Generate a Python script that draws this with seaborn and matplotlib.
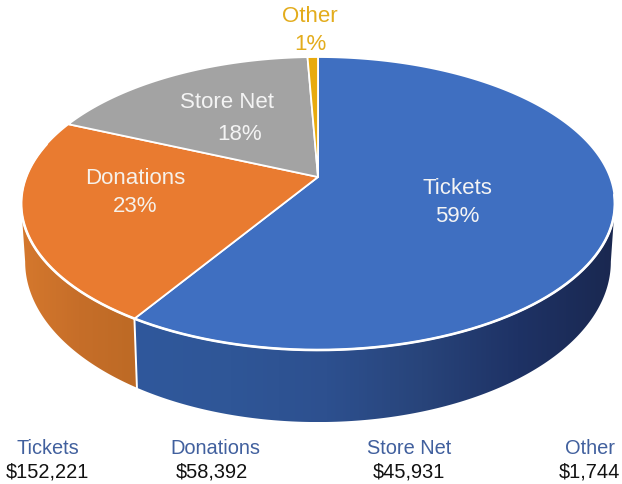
import numpy as np
import matplotlib
matplotlib.use('Agg')
import matplotlib.pyplot as plt
from matplotlib.patches import Polygon
import seaborn as sns

# Datos del grafico
categorias = ['Tickets', 'Donations', 'Store Net', 'Other']
valores = [152221, 58392, 45931, 1744]
porcentajes = ['59%', '23%', '18%', '1%']
montos = ['$152,221', '$58,392', '$45,931', '$1,744']

# Colores de la cara superior y de la pared lateral visible (de izquierda a derecha)
colores = ['#3F6FC1', '#E97B30', '#A3A3A3', '#E8AA0E']
paredes = [['#30589C', '#2F5697', '#2D508F', '#28447A', '#1E3265', '#1A2850'],
           ['#D5782D', '#C66E29', '#BD6A25']]

sns.set_theme(style='white')
plt.rcParams['font.family'] = ['Liberation Sans', 'DejaVu Sans']

fig, ax = plt.subplots(figsize=(6.22, 4.84), dpi=100)
ax.set_position([0, 0, 1, 1])
ax.axis('off')

# Proyeccion en perspectiva del circulo unidad al plano de la figura
def proyectar(ang, cx, cy, rx, ry, k=0.181):
    x, y = np.sin(ang), np.cos(ang)
    w = 1 + k * y
    return cx + rx * x / w, cy - ry * y / w

def arriba(ang):
    return proyectar(ang, 318, 177, 292, 141.7)

def abajo(ang):
    return proyectar(ang, 318, 232.8, 288, 155)

# Angulos acumulados, en sentido horario desde arriba
fracciones = np.cumsum([0] + valores) / np.sum(valores)
angulos = fracciones * 2 * np.pi

# Solo se ve la pared entre los dos extremos laterales de la elipse
frente = np.radians([100.4, 259.6])

# Pared lateral con degradado horizontal recortado a la forma de cada porcion
for i in range(len(paredes)):
    t = np.linspace(max(angulos[i], frente[0]), min(angulos[i + 1], frente[1]), 300)
    xa, ya = arriba(t)
    xb, yb = abajo(t[::-1])
    px, py = np.r_[xa, xb], np.r_[ya, yb]
    forma = Polygon(np.c_[px, py], closed=True, transform=ax.transData,
                    facecolor='none', edgecolor='none')
    ax.add_patch(forma)
    mapa = sns.blend_palette(paredes[i], as_cmap=True)
    im = ax.imshow(np.linspace(0, 1, 256).reshape(1, -1), cmap=mapa, aspect='auto',
                   extent=(px.min(), px.max(), py.max(), py.min()), zorder=2)
    im.set_clip_path(forma)

ax.set_xlim(0, 622)
ax.set_ylim(484, 0)

# Linea blanca entre las paredes de Tickets y Donations
xa, ya = arriba(angulos[1])
xb, yb = abajo(angulos[1])
ax.plot([xa, xb], [ya, yb], color='white', lw=1.4, zorder=3)

# Cara superior
for i in range(len(valores)):
    t = np.linspace(angulos[i], angulos[i + 1], 200)
    x, y = arriba(t)
    ax.fill(np.r_[318, x], np.r_[177, y], facecolor=colores[i], edgecolor='white',
            lw=1.3, joinstyle='round', zorder=4)

# Brillo blanco en el borde frontal
t = np.linspace(np.radians(97), np.radians(284), 300)
x, y = arriba(t)
ax.plot(x, y, color='white', lw=1.9, zorder=5)

# Etiquetas dentro del pastel
pos_nombre = [(457, 189), (135, 179), (227, 103), (310, 17)]
pos_pct = [(457, 216), (135, 206), (240, 134), (310, 44)]
color_texto = ['#F4F4F4', '#F6F1EA', '#F4F4F4', '#E3AC1C']
for i in range(len(categorias)):
    ax.text(*pos_nombre[i], categorias[i], color=color_texto[i], fontsize=16,
            ha='center', va='center', zorder=6)
    ax.text(*pos_pct[i], porcentajes[i], color=color_texto[i], fontsize=16,
            ha='center', va='center', zorder=6)

# Resumen inferior
pos_x_nombre = [48, 215, 409, 590]
pos_x_monto = [47, 212, 409, 589]
for i in range(len(categorias)):
    ax.text(pos_x_nombre[i], 449, categorias[i], color='#41609E', fontsize=14.4,
            ha='center', va='center')
    ax.text(pos_x_monto[i], 472, montos[i], color='#111111', fontsize=14.4,
            ha='center', va='center')

fig.savefig('out.png', dpi=100, facecolor='white')
